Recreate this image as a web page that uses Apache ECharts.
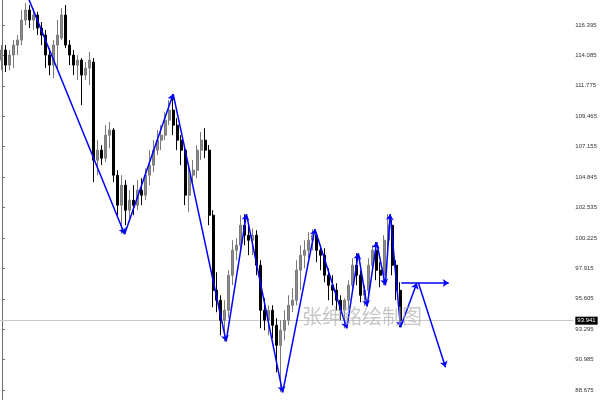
<!DOCTYPE html>
<html><head><meta charset="utf-8">
<script src="https://cdn.jsdelivr.net/npm/echarts@6/dist/echarts.min.js"></script>
<style>html,body{margin:0;padding:0;background:#fff}#c{width:600px;height:400px}</style>
</head><body><div id="c"></div>
<script>
// candle data (OHLC)
const opens  = [113.73,114.49,113.35,114.11,114.87,115.25,116.77,117.53,116.77,117.15,116.16,115.63,114.11,113.35,114.87,115.40,117.15,114.87,114.11,113.35,113.73,112.59,113.12,113.58,106.13,106.89,106.28,108.03,108.41,104.99,102.71,104.23,102.33,103.09,102.71,103.85,103.47,104.99,105.75,106.89,107.65,108.03,109.17,109.93,108.79,107.65,106.89,103.47,104.99,105.37,106.89,107.65,106.89,101.95,96.25,95.49,93.97,94.73,97.39,99.29,99.67,101.19,100.43,100.05,100.43,98.15,94.73,93.97,94.73,93.59,92.07,93.21,93.97,95.11,95.49,97.77,98.91,99.29,100.05,100.43,99.29,98.91,97.39,96.63,96.25,95.49,94.73,95.49,96.63,98.15,97.39,95.87,96.25,98.15,99.29,97.77,97.39,100.05,101.19,98.15,96.25];
const closes = [114.49,113.35,114.11,114.87,115.25,116.77,117.53,116.77,117.15,116.16,115.63,114.11,113.35,114.87,115.63,117.15,114.87,114.11,113.35,113.73,112.59,113.12,113.73,106.13,106.89,106.28,108.03,108.41,104.99,102.71,104.23,102.33,103.09,102.71,103.85,103.47,104.99,105.75,106.89,107.65,108.03,109.17,109.93,108.79,107.65,106.89,103.47,104.99,105.37,106.89,107.65,106.89,101.95,96.25,95.49,93.97,94.73,97.39,99.29,99.67,101.19,100.43,100.05,100.43,98.15,94.73,93.97,94.73,93.59,92.07,93.21,93.97,95.11,95.49,97.77,98.91,99.29,100.05,100.43,99.29,98.91,97.39,96.63,96.25,95.49,94.73,95.49,96.63,98.15,97.39,95.87,96.25,98.15,99.29,97.77,97.39,100.05,101.19,98.15,96.25,93.941];
const highs  = [114.87,114.87,114.49,115.25,115.63,117.53,118.06,117.91,117.68,117.38,116.62,116.01,114.64,115.25,116.77,117.68,117.91,115.25,114.49,114.11,113.88,113.58,114.34,113.88,107.65,107.27,108.79,109.02,108.56,105.37,104.99,104.61,103.85,104.23,104.61,104.76,105.52,106.89,107.65,108.41,108.79,109.78,110.69,111.15,109.32,108.03,107.04,105.75,106.13,107.27,108.26,108.56,107.27,102.33,97.62,95.87,95.49,97.77,100.05,100.20,101.95,102.03,101.19,100.96,100.81,98.53,95.64,95.11,95.11,94.12,93.97,94.73,95.87,96.40,98.53,99.67,100.05,100.66,100.89,100.66,99.67,99.44,97.92,97.39,96.78,95.87,95.64,97.01,98.68,99.06,97.77,96.63,98.68,99.67,99.90,98.38,100.43,102.03,101.57,98.53,96.86];
const lows   = [112.97,112.82,112.97,113.12,114.11,114.87,116.39,116.16,116.01,115.63,114.87,113.12,112.59,112.36,112.97,115.25,114.64,113.35,112.59,112.21,110.31,112.21,111.83,104.46,104.99,105.75,105.98,107.04,104.46,101.95,100.51,101.19,101.42,101.95,102.33,102.71,103.09,104.23,105.22,106.51,106.89,107.65,108.79,108.03,106.89,105.75,102.71,102.18,104.23,104.76,106.13,106.28,101.19,94.96,94.58,92.83,92.37,94.12,96.63,98.53,99.29,99.67,98.91,98.91,97.39,93.36,93.21,92.83,92.60,90.02,88.50,92.45,93.59,94.58,95.11,96.25,97.92,98.68,99.29,98.38,97.77,96.86,95.49,95.11,94.73,93.97,93.36,94.73,96.25,96.63,95.34,95.03,95.87,97.77,97.01,96.48,96.63,98.91,97.39,95.49,93.44];
// zigzag vertices (bar index, price)
const zigIdx   = [6.0, 30.8, 43, 56.3, 61.4, 70.5, 78.6, 86.6, 89.5, 91.7, 94.1, 96.3, 97.5, 100.1];
const zigPrice = [118.9, 100.51, 111.15, 92.37, 102.03, 88.50, 100.89, 93.36, 99.06, 95.03, 99.90, 96.63, 102.03, 93.44];
// projection arrows: [fromIdx, fromPrice, toIdx, toPrice]
const projFromIdx   = [100.1, 100.3, 104.6];
const projFromPrice = [93.44, 96.8, 96.8];
const projToIdx     = [104.2, 112.2, 111.4];
const projToPrice   = [96.8, 96.8, 90.4];
const currentPrice = 93.941;
const tickValues = [88.675, 90.985, 93.295, 95.605, 97.915, 100.225, 102.535, 104.845, 107.155, 109.465, 111.775, 114.085, 116.395];
const totalBars = 144;
const watermark = '张绅铭绘制图';

const cats = [];
for (let i = 0; i < totalBars; i++) cats.push(String(i));
const candles = opens.map((o, i) => [o, closes[i], lows[i], highs[i]]);
const segs = [];
for (let i = 0; i + 1 < zigIdx.length; i++) segs.push({coords: [[zigIdx[i], zigPrice[i]], [zigIdx[i+1], zigPrice[i+1]]]});
for (let i = 0; i < projFromIdx.length; i++) segs.push({coords: [[projFromIdx[i], projFromPrice[i]], [projToIdx[i], projToPrice[i]]]});

const chart = echarts.init(document.getElementById('c'), null, {renderer: 'canvas'});
chart.setOption({
  animation: false,
  backgroundColor: '#fff',
  grid: {left: 0, right: 25, top: 0, bottom: 0, containLabel: false},
  xAxis: [
    {type: 'category', data: cats, show: false, boundaryGap: true},
    {type: 'value', min: -0.5, max: totalBars - 0.5, show: false}
  ],
  yAxis: {
    type: 'value', position: 'right', min: 87.916, max: 118.293, scale: true,
    splitLine: {show: false},
    axisLine: {show: true, lineStyle: {color: '#707070', width: 1}},
    axisTick: {show: true, length: 3, customValues: tickValues, lineStyle: {color: '#707070'}},
    axisLabel: {show: true, customValues: tickValues, margin: 2, fontSize: 6, fontFamily: 'Liberation Sans', color: '#333',
      formatter: v => v.toFixed(3)}
  },
  series: [
    {
      type: 'candlestick', data: candles, barWidth: 2.5,
      itemStyle: {color: '#8c8c8c', borderColor: '#7a7a7a', color0: '#000', borderColor0: '#000', borderWidth: 1},
      markLine: {
        silent: true, symbol: ['none', 'none'], z: 1,
        lineStyle: {color: '#c8c8c8', type: 'solid', width: 1},
        label: {show: true, position: 'end', distance: 2, fontSize: 6, fontFamily: 'Liberation Sans', color: '#fff',
          backgroundColor: '#000', padding: [1, 2, 1, 2], formatter: () => currentPrice.toFixed(3)},
        data: [{yAxis: currentPrice}]
      }
    },
    {
      type: 'lines', coordinateSystem: 'cartesian2d', xAxisIndex: 1, yAxisIndex: 0, clip: true,
      symbol: ['none', 'arrow'], symbolSize: 6, z: 5,
      lineStyle: {color: '#0000ff', width: 1.5, opacity: 1},
      data: segs
    }
  ],
  graphic: [{
    type: 'text', left: 302, top: 306, z: 100, silent: true,
    style: {text: watermark, fontSize: 20, fontFamily: 'Noto Sans CJK SC', fill: 'rgba(175,175,175,0.7)'}
  }]
});
</script></body></html>
